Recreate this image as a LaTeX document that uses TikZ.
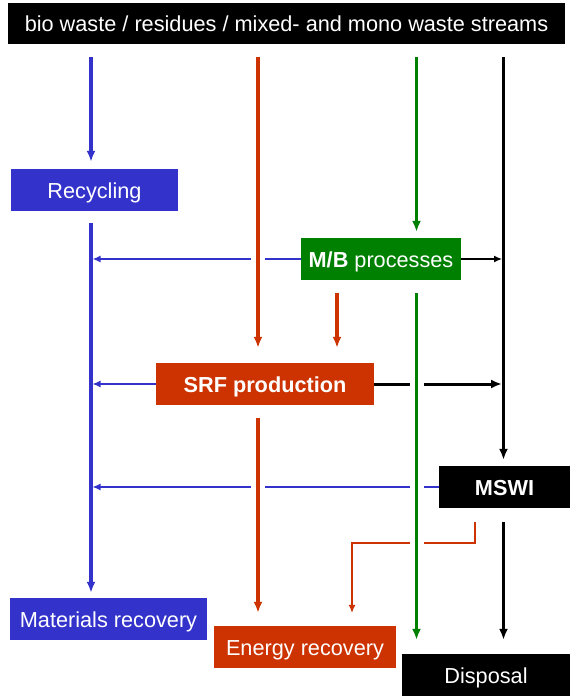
\documentclass[tikz,border=0pt]{standalone}
\usepackage{fontspec}
\setmainfont{Liberation Sans}
\usetikzlibrary{arrows.meta}
\definecolor{wblue}{HTML}{3333CC}
\definecolor{wred}{HTML}{CC3300}
\definecolor{wgreen}{HTML}{008000}
\begin{document}
\begin{tikzpicture}[x=1pt,y=-1pt,
    box/.style={fill=#1,text=white,inner sep=0pt,minimum height=42pt,text height=20pt,text depth=4pt,font=\fontsize{21.7}{26}\selectfont},
    thick line/.style={draw=#1,line width=3.5pt,-{Latex[length=11pt,width=9pt]}},
    thin line/.style={draw=#1,line width=1.3pt,-{Latex[length=8pt,width=7pt]}},
    cut/.style={preaction={draw=white,line width=14pt,-}}]
\useasboundingbox (0,0) rectangle (572,696);
\node[box=black,minimum width=557pt,minimum height=41pt] (top) at (286.5,23.5) {bio waste / residues / mixed- and mono waste streams};
\node[box=wblue,minimum width=167pt] (rec) at (94.5,190) {Recycling};
\node[box=wgreen,minimum width=160pt] (mb) at (381,259) {\textbf{M/B} processes};
\node[box=wred,minimum width=218pt] (srf) at (265,384) {\textbf{SRF production}};
\node[box=black,minimum width=131pt] (mswi) at (504.5,487) {\textbf{MSWI}};
\node[box=wblue,minimum width=197pt] (mat) at (108.5,619) {Materials recovery};
\node[box=wred,minimum width=182pt] (en) at (305,647) {Energy recovery};
\node[box=black,minimum width=168pt] (disp) at (486,675) {Disposal};
\coordinate (cb) at (91,0);
\coordinate (cr) at (258,0);
\coordinate (cg) at (416.5,0);
\coordinate (ck) at (503.5,0);
\coordinate (bend) at (352,543);
\draw[thin line=wblue,line width=1.6pt,shorten >=1.5pt] (mb.west) -- (mb.west -| cb);
\draw[thin line=wblue,shorten >=1.5pt] (srf.west) -- (srf.west -| cb);
\draw[thin line=wblue,shorten >=1.5pt] (mswi.west) -- (mswi.west -| cb);
\draw[thin line=black,shorten >=1.5pt] (mb.east) -- (mb.east -| ck);
\draw[thick line=black,line width=3pt,shorten >=1.5pt] (srf.east) -- (srf.east -| ck);
\draw[thin line=wred,line width=1.1pt,shorten <=14pt,shorten >=13pt] ([xshift=-29.5pt]mswi.south) |- (bend) -- (bend |- en.north);
\draw[thick line=wblue,shorten <=13pt,shorten >=7pt] (top.south -| cb) -- (cb |- rec.north);
\draw[thick line=wred,cut,shorten <=13pt,shorten >=15pt] (top.south -| cr) -- (cr |- srf.north);
\draw[thick line=wgreen,shorten <=13pt,shorten >=6pt] (top.south -| cg) -- (cg |- mb.north);
\draw[thick line=black,line width=3pt,shorten <=13pt,shorten >=6pt] (top.south -| ck) -- (ck |- mswi.north);
\draw[thick line=wblue,shorten <=12pt,shorten >=5pt] (rec.south -| cb) -- (cb |- mat.north);
\draw[thick line=wred,shorten <=13pt,shorten >=15pt] ([xshift=-44pt]mb.south) -- ([xshift=-44pt]mb.south |- srf.north);
\draw[thick line=wgreen,cut,shorten <=13pt,shorten >=14pt] (mb.south -| cg) -- (cg |- disp.north);
\draw[thick line=wred,cut,shorten <=13pt,shorten >=13pt] (srf.south -| cr) -- (cr |- en.north);
\draw[thick line=black,line width=3pt,shorten <=14pt,shorten >=14pt] (mswi.south -| ck) -- (ck |- disp.north);
\end{tikzpicture}
\end{document}
